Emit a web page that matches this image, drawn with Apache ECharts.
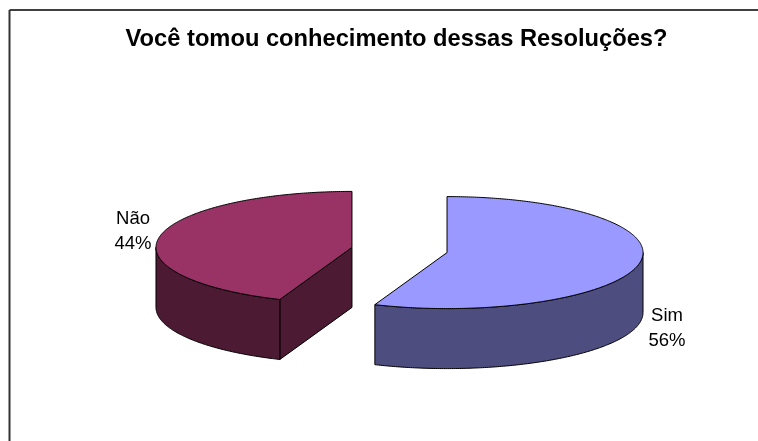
<!DOCTYPE html>
<html>
<head>
<meta charset="utf-8">
<style>
html,body{margin:0;padding:0;background:#fff;overflow:hidden;}
#main{width:758px;height:441px;}
</style>
<script src="https://cdn.jsdelivr.net/npm/echarts@6/dist/echarts.min.js"></script>
</head>
<body>
<div id="main"></div>
<script>
var titleText = 'Você tomou conhecimento dessas Resoluções?';
var categories = ['Sim', 'Não'];
var shares = [56, 44];
var topColors = ['#9999FF', '#993366'];
var wallColors = ['#4D4D7F', '#4D1A33'];
var labelPos = [[667, 328], [133, 231]];

var cx = 399.5, cy = 250, rx = 196, ry = 56, depth = 60, explode = 0.2468;
var total = shares.reduce(function(a, b){ return a + b; }, 0);
var font = '"Liberation Sans", Arial, sans-serif';

function rim(c, t, dy){//t in radians, clockwise from the top
    return [c[0] + rx * Math.sin(t), c[1] - ry * Math.cos(t) + (dy || 0)];
}
function arc(c, t0, t1, dy){
    var pts = [], n = Math.max(2, Math.ceil(Math.abs(t1 - t0) / 0.01));
    for(var i = 0; i <= n; i++){
        pts.push(rim(c, t0 + (t1 - t0) * i / n, dy));
    }
    return pts;
}
function poly(points, fill){
    return {
        type: 'polygon',
        shape: {points: points},
        style: {fill: fill, stroke: '#000', lineWidth: 1, lineJoin: 'round'}
    };
}
function label(i, value){
    return {
        type: 'text',
        style: {
            x: labelPos[i][0],
            y: labelPos[i][1],
            text: categories[i] + '\n' + value + '%',
            fill: '#000',
            font: '18.5px ' + font,
            lineHeight: 25,
            align: 'center',
            verticalAlign: 'middle'
        }
    };
}

function renderSlice(params, api){
    var i = params.dataIndex;
    var before = shares.slice(0, i).reduce(function(a, b){ return a + b; }, 0);
    var value = api.value(0);
    var t0 = before / total * Math.PI * 2;
    var t1 = (before + value) / total * Math.PI * 2;
    var mid = (t0 + t1) / 2;
    var c = [cx + explode * rx * Math.sin(mid), cy - explode * ry * Math.cos(mid)];
    var children = [];

    // cut faces that look at the viewer
    if(-Math.sin(t0) > 1e-6){
        var a = rim(c, t0);
        children.push(poly([c, a, [a[0], a[1] + depth], [c[0], c[1] + depth]], wallColors[i]));
    }
    if(Math.sin(t1) > 1e-6){
        var b = rim(c, t1);
        children.push(poly([c, b, [b[0], b[1] + depth], [c[0], c[1] + depth]], wallColors[i]));
    }
    // outer wall, front half only
    var w0 = Math.max(t0, Math.PI / 2), w1 = Math.min(t1, Math.PI * 1.5);
    if(w1 > w0){
        children.push(poly(arc(c, w0, w1).concat(arc(c, w1, w0, depth)), wallColors[i]));
    }
    // top face
    children.push(poly([c].concat(arc(c, t0, t1)), topColors[i]));
    children.push(label(i, value));
    return {type: 'group', children: children};
}

var chart = echarts.init(document.getElementById('main'), null, {renderer: 'canvas'});
chart.setOption({
    animation: false,
    backgroundColor: '#fff',
    title: {
        text: titleText,
        left: 391.5,
        top: 22,
        textAlign: 'center',
        textStyle: {fontFamily: font, fontSize: 23.7, fontWeight: 'bold', color: '#000'}
    },
    graphic: [
        {type: 'line', shape: {x1: 9.5, y1: 10, x2: 758, y2: 10}, style: {stroke: '#000', lineWidth: 1.5}},
        {type: 'line', shape: {x1: 9.5, y1: 10, x2: 9.5, y2: 441}, style: {stroke: '#333', lineWidth: 2}}
    ],
    series: [{
        type: 'custom',
        coordinateSystem: 'none',
        renderItem: renderSlice,
        data: shares.map(function(v){ return [v]; })
    }]
});
</script>
</body>
</html>
